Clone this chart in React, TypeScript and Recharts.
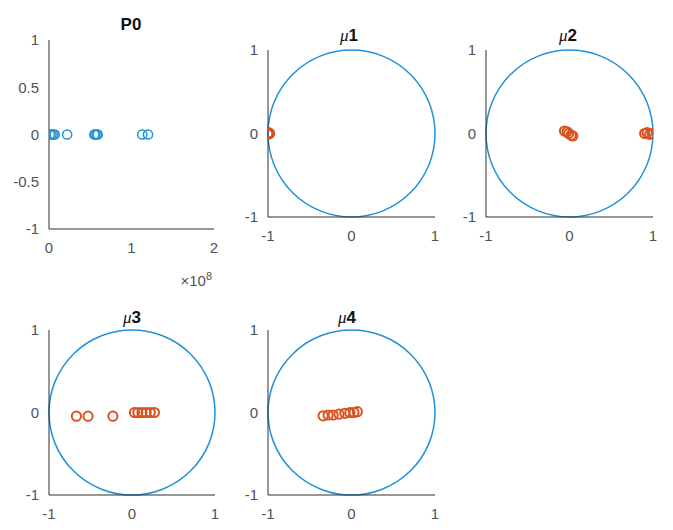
import React from "react"
import { ReferenceArea, Scatter, ScatterChart, XAxis, YAxis } from "recharts"

// P0: x values in raw units (axis shows them as x 10^8)
const p0X = [1.0e6, 3.0e6, 5.0e6, 7.0e6, 2.2e7, 5.5e7, 5.6e7, 5.8e7, 5.9e7, 1.13e8, 1.2e8]
const p0Y = [0, 0, 0, 0, 0, 0, 0, 0, 0, 0, 0]

const mu1X = [-1.0, -0.99, -1.0, -0.98]
const mu1Y = [0.0, 0.01, -0.01, 0.0]

const mu2X = [-0.06, -0.03, -0.01, 0.02, 0.04, 0.9, 0.93, 0.96, 0.99]
const mu2Y = [0.03, 0.02, 0.0, -0.02, -0.03, 0.0, 0.01, -0.01, 0.0]

const mu3X = [-0.67, -0.53, -0.23, 0.03, 0.07, 0.12, 0.17, 0.22, 0.27]
const mu3Y = [-0.045, -0.045, -0.045, 0.0, 0.0, 0.0, 0.0, 0.0, 0.0]

const mu4X = [-0.34, -0.28, -0.22, -0.15, -0.08, -0.02, 0.03, 0.07]
const mu4Y = [-0.04, -0.03, -0.03, -0.02, -0.01, 0.0, 0.0, 0.01]

const p0XTicks = [0, 1e8, 2e8]
const p0YTicks = [-1, -0.5, 0, 0.5, 1]
const unitTicks = [-1, 0, 1]

const BLUE = "#1f92d8"
const ORANGE = "#d9531e"
const AXIS = "#2e2e2e"
const LABEL = "#4a5559"
const FONT = '"Liberation Sans", Arial, sans-serif'

const toPoints = (xs: number[], ys: number[]) => xs.map((x, i) => ({ x, y: ys[i] }))

interface PanelProps {
  px: number
  py: number
  pw: number
  ph: number
  xs: number[]
  ys: number[]
  color: string
  strokeWidth: number
  xDomain: [number, number]
  xTicks: number[]
  yTicks: number[]
  xFormat?: (v: number) => string
  circle?: boolean
}

function Panel({ px, py, pw, ph, xs, ys, color, strokeWidth, xDomain, xTicks, yTicks, xFormat, circle }: PanelProps) {
  const yw = 48
  const top = 10
  const right = 10
  const xh = 30
  return (
    <div style={{ position: "absolute", left: px - yw, top: py - top }}>
      <ScatterChart width={pw + yw + right} height={ph + top + xh} margin={{ top, right, bottom: 0, left: 0 }}>
        <XAxis
          type="number"
          dataKey="x"
          domain={xDomain}
          ticks={xTicks}
          allowDataOverflow
          height={xh}
          stroke={AXIS}
          tickLine={false}
          tickSize={0}
          tickMargin={13}
          tick={{ fill: LABEL, fontSize: 15, fontFamily: FONT }}
          tickFormatter={xFormat}
          interval={0}
        />
        <YAxis
          type="number"
          dataKey="y"
          domain={[-1, 1]}
          ticks={yTicks}
          allowDataOverflow
          width={yw}
          stroke={AXIS}
          tickLine={false}
          tickSize={0}
          tickMargin={10}
          tick={{ fill: LABEL, fontSize: 15, fontFamily: FONT }}
          interval={0}
        />
        {circle && (
          <ReferenceArea
            x1={-1}
            x2={1}
            y1={-1}
            y2={1}
            shape={(p: any) => (
              <ellipse
                cx={p.x + p.width / 2}
                cy={p.y + p.height / 2}
                rx={p.width / 2}
                ry={p.height / 2}
                fill="none"
                stroke={BLUE}
                strokeWidth={1.5}
              />
            )}
          />
        )}
        <Scatter
          data={toPoints(xs, ys)}
          isAnimationActive={false}
          shape={(p: any) => (
            <circle cx={p.cx} cy={p.cy} r={4.6} fill="none" stroke={color} strokeWidth={strokeWidth} />
          )}
        />
      </ScatterChart>
    </div>
  )
}

function Title({ cx, cy, children }: { cx: number; cy: number; children: React.ReactNode }) {
  return (
    <div
      style={{
        position: "absolute",
        left: cx - 50,
        top: cy - 10,
        width: 100,
        lineHeight: "20px",
        textAlign: "center",
        fontFamily: FONT,
        fontWeight: "bold",
        fontSize: 17,
        color: "#111",
      }}
    >
      {children}
    </div>
  )
}

const Mu = ({ n }: { n: string }) => (
  <>
    <span style={{ fontStyle: "italic", fontWeight: "normal", fontFamily: "serif" }}>μ</span>
    {n}
  </>
)

export default function App() {
  return (
    <div style={{ position: "absolute", left: 0, top: 0, width: 673, height: 530, overflow: "hidden", background: "#fff" }}>
      <Panel
        px={49}
        py={40}
        pw={165}
        ph={189}
        xs={p0X}
        ys={p0Y}
        color={BLUE}
        strokeWidth={1.5}
        xDomain={[0, 2e8]}
        xTicks={p0XTicks}
        yTicks={p0YTicks}
        xFormat={(v) => `${v / 1e8}`}
      />
      <Panel px={268} py={50} pw={167} ph={167} xs={mu1X} ys={mu1Y} color={ORANGE} strokeWidth={2} xDomain={[-1, 1]} xTicks={unitTicks} yTicks={unitTicks} circle />
      <Panel px={486} py={50} pw={167} ph={167} xs={mu2X} ys={mu2Y} color={ORANGE} strokeWidth={2} xDomain={[-1, 1]} xTicks={unitTicks} yTicks={unitTicks} circle />
      <Panel px={49} py={330} pw={166} ph={165} xs={mu3X} ys={mu3Y} color={ORANGE} strokeWidth={2} xDomain={[-1, 1]} xTicks={unitTicks} yTicks={unitTicks} circle />
      <Panel px={268} py={330} pw={167} ph={165} xs={mu4X} ys={mu4Y} color={ORANGE} strokeWidth={2} xDomain={[-1, 1]} xTicks={unitTicks} yTicks={unitTicks} circle />

      <Title cx={131} cy={25}>P0</Title>
      <Title cx={349} cy={36}><Mu n="1" /></Title>
      <Title cx={568} cy={36}><Mu n="2" /></Title>
      <Title cx={132} cy={318}><Mu n="3" /></Title>
      <Title cx={347} cy={318}><Mu n="4" /></Title>

      <div style={{ position: "absolute", left: 140, top: 270, width: 72, textAlign: "right", fontFamily: FONT, fontSize: 15, color: LABEL }}>
        ×10<sup style={{ fontSize: 11 }}>8</sup>
      </div>
    </div>
  )
}
